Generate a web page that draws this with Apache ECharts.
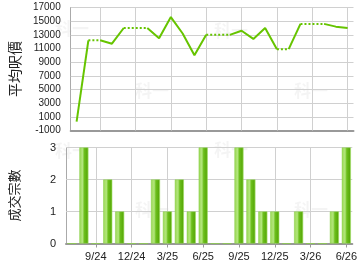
<!DOCTYPE html>
<html><head><meta charset="utf-8">
<script src="https://cdn.jsdelivr.net/npm/echarts@6/dist/echarts.min.js"></script>
<style>html,body{margin:0;padding:0;background:#fff}#c{width:360px;height:270px}</style>
</head><body><div id="c"></div>
<script>
const months = ['7/24','8/24','9/24','10/24','11/24','12/24','1/25','2/25','3/25','4/25','5/25','6/25','7/25','8/25','9/25','10/25','11/25','12/25','1/26','2/26','3/26','4/26','5/26','6/26'];
const avgPrice = [300,12200,null,11700,14000,null,null,12500,15600,13200,10000,13000,null,null,13600,12400,14000,10900,null,14600,null,null,14200,14000];
const deals = [0,3,0,2,1,0,0,2,1,2,1,3,0,0,3,2,1,1,0,1,0,0,1,3];
const priceTicks = {min:-1000, max:17000, step:2000};
const dealTicks = {min:0, max:3, step:1};
const yName1 = '平均呎價';
const yName2 = '成交宗數';

const chart = echarts.init(document.getElementById('c'), null, {renderer:'canvas'});
const green = '#66c400';
const gridColor = '#d0d0d0';

const filled = [];
avgPrice.forEach((v,i)=>{ filled.push(v!=null ? v : filled[i-1]); });
const runs = [];
for (let i=0;i<filled.length-1;i++){
  const style = avgPrice[i+1]!=null ? 'solid' : 'dotted';
  const last = runs[runs.length-1];
  if (last && last.style===style && last.end===i) last.end=i+1;
  else runs.push({style, start:i, end:i+1});
}
const lineSeries = runs.map(r=>({
  type:'line', xAxisIndex:0, yAxisIndex:0, symbol:'none', silent:true,
  data: filled.map((v,i)=> (i>=r.start && i<=r.end) ? v : null),
  lineStyle:{color:green, width:2, type: r.style==='solid' ? 'solid' : [2,2]},
  z:3
}));

const labelIdx = (i)=> i%3===2;
const tickVals = (t)=>{ const a=[]; for(let v=t.min+t.step; v<=t.max; v+=t.step) a.push(v); return a; };
const gridLineSeries = (gi, t)=>({
  type:'line', xAxisIndex:gi, yAxisIndex:gi, data:[], silent:true, z:1,
  markLine:{
    silent:true, symbol:'none', animation:false, label:{show:false}, z:1,
    lineStyle:{color:gridColor, width:1, type:'solid'},
    emphasis:{disabled:true},
    data: months.filter((m,i)=>labelIdx(i)).map(m=>({xAxis:m}))
      .concat(tickVals(t).map(v=>({yAxis:v})))
  }
});
const xBase = {
  type:'category', data:months, boundaryGap:true,
  axisLine:{onZero:false, lineStyle:{color:'#999', width:2}},
  splitLine:{show:false}
};
const wm = (x,y)=>({type:'text', left:x, top:y, z:0, silent:true,
  style:{text:'科一', fill:'rgba(0,0,0,0.045)', font:'bold 17px "Noto Sans CJK TC"'}});

chart.setOption({
  animation:false,
  graphic:[wm(55,20),wm(135,82),wm(214,22),wm(294,82),wm(55,142),wm(135,201),wm(214,141),wm(294,201)],
  grid:[
    {left:65.5, right:6.5, top:7.5, height:123},
    {left:65.5, right:6.5, top:147.5, height:96}
  ],
  xAxis:[
    Object.assign({}, xBase, {gridIndex:0, axisTick:{show:false}, axisLabel:{show:false}}),
    Object.assign({}, xBase, {gridIndex:1,
      axisTick:{show:true, alignWithLabel:true, interval:(i)=>labelIdx(i), length:4, lineStyle:{color:'#999'}},
      axisLabel:{interval:(i)=>labelIdx(i), color:'#222', fontSize:11, fontFamily:'Liberation Sans', margin:8}})
  ],
  yAxis:[
    {type:'value', gridIndex:0, min:priceTicks.min, max:priceTicks.max, interval:priceTicks.step,
     name:yName1, nameLocation:'middle', nameGap:48, nameRotate:90,
     nameTextStyle:{fontSize:14, color:'#222', fontFamily:'Noto Sans CJK TC'},
     axisLine:{show:true, onZero:false, lineStyle:{color:'#aaa'}}, axisTick:{show:false},
     axisLabel:{color:'#222', fontSize:10, fontFamily:'Liberation Sans', margin:10, formatter:(v)=>String(v)},
     splitLine:{show:false}},
    {type:'value', gridIndex:1, min:dealTicks.min, max:dealTicks.max, interval:dealTicks.step,
     name:yName2, nameLocation:'middle', nameGap:45, nameRotate:90,
     nameTextStyle:{fontSize:13, color:'#222', fontFamily:'Noto Sans CJK TC'},
     axisLine:{show:true, onZero:false, lineStyle:{color:'#aaa'}}, axisTick:{show:false},
     axisLabel:{color:'#222', fontSize:11, fontFamily:'Liberation Sans', margin:10, formatter:(v)=>String(v)},
     splitLine:{show:false}}
  ],
  series: [gridLineSeries(0, priceTicks), gridLineSeries(1, dealTicks)].concat(lineSeries).concat([{
    type:'bar', xAxisIndex:1, yAxisIndex:1, barWidth:9, silent:true, z:2,
    data: deals,
    itemStyle:{
      color:new echarts.graphic.LinearGradient(0,0,1,0,[
        {offset:0,color:'#8fd34a'},{offset:0.15,color:'#a6de66'},{offset:0.35,color:'#b2e67c'},
        {offset:0.55,color:'#6cbf1c'},{offset:0.85,color:'#5aab0c'},{offset:1,color:'#86cc3c'}]),
      borderColor:'#8ad048', borderWidth:0.5
    }
  }])
});
</script></body></html>
